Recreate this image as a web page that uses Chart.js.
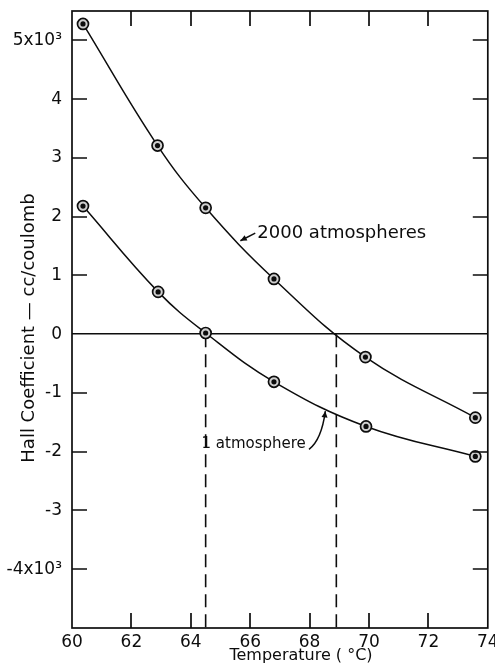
<!DOCTYPE html>
<html>
<head>
<meta charset="utf-8">
<script src="https://cdn.jsdelivr.net/npm/chart.js@4.4.1/dist/chart.umd.min.js"></script>
<style>
  html, body { margin: 0; padding: 0; background: #fff; }
  #wrap { width: 495px; height: 666px; }
</style>
</head>
<body>
<div id="wrap"><canvas id="hallChart"></canvas></div>
<script>
// Hall coefficient (x10^3 cc/coulomb) vs temperature
const temps2000 = [60.37, 62.88, 64.5, 66.8, 69.88, 73.58];
const hall2000  = [5.28, 3.21, 2.15, 0.94, -0.39, -1.42];
const temps1    = [60.37, 62.9, 64.5, 66.8, 69.9, 73.58];
const hall1     = [2.18, 0.72, 0.02, -0.81, -1.57, -2.08];

// temperatures where each curve crosses zero (dashed drop lines)
const zeroCrossings = [64.5, 68.9];

const xTickValues = [60, 62, 64, 66, 68, 70, 72, 74];
const yTickLabels = { 5: '5x10\u00b3', '-4': '-4x10\u00b3', '-5': '' };

const INK = '#0d0d0d';
const FONT = "'DejaVu Sans', sans-serif";
const TICK = 15;

Chart.defaults.font.family = FONT;
Chart.defaults.color = INK;

const toPoints = (xs, ys) => xs.map((x, i) => ({ x: x, y: ys[i] }));

function curve(xs, ys) {
    return {
        data: toPoints(xs, ys),
        showLine: true,
        tension: 0.4,
        borderColor: INK,
        borderWidth: 1.5,
        pointRadius: 5.5,
        pointBorderWidth: 1.7,
        pointBorderColor: INK,
        pointBackgroundColor: '#cfcfcf',
        order: 2
    };
}

function dots(xs, ys) {
    return {
        data: toPoints(xs, ys),
        showLine: false,
        pointRadius: 2.6,
        pointBorderWidth: 0,
        pointBackgroundColor: INK,
        order: 1
    };
}

const dropLines = zeroCrossings.map(t => ({
    data: [{ x: t, y: 0 }, { x: t, y: -5 }],
    showLine: true,
    borderColor: INK,
    borderWidth: 1.6,
    borderDash: [13, 7],
    pointRadius: 0,
    order: 3
}));

function arrowHead(ctx, fromX, fromY, toX, toY, size) {
    const ang = Math.atan2(toY - fromY, toX - fromX);
    ctx.beginPath();
    ctx.moveTo(toX, toY);
    ctx.lineTo(toX - size * Math.cos(ang - 0.45), toY - size * Math.sin(ang - 0.45));
    ctx.lineTo(toX - size * Math.cos(ang + 0.45), toY - size * Math.sin(ang + 0.45));
    ctx.closePath();
    ctx.fill();
}

// box, inward ticks on all four sides, titles and the two curve labels
const framePlugin = {
    id: 'frame',
    afterDraw(chart) {
        const { ctx, chartArea: a, scales: { x, y } } = chart;
        ctx.save();
        ctx.strokeStyle = INK;
        ctx.fillStyle = INK;
        ctx.lineWidth = 1.7;
        ctx.strokeRect(a.left, a.top, a.right - a.left, a.bottom - a.top);

        ctx.beginPath();
        x.ticks.forEach(t => {
            if (t.value <= x.min || t.value >= x.max) return;
            const px = Math.round(x.getPixelForValue(t.value));
            ctx.moveTo(px, a.bottom); ctx.lineTo(px, a.bottom - TICK);
            ctx.moveTo(px, a.top); ctx.lineTo(px, a.top + TICK);
        });
        y.ticks.forEach(t => {
            if (t.value <= y.min || t.value >= y.max || t.value === 0) return;
            const py = Math.round(y.getPixelForValue(t.value));
            ctx.moveTo(a.left, py); ctx.lineTo(a.left + TICK, py);
            ctx.moveTo(a.right, py); ctx.lineTo(a.right - TICK, py);
        });
        ctx.stroke();

        // axis titles
        ctx.textAlign = 'center';
        ctx.textBaseline = 'middle';
        ctx.font = '16px ' + FONT;
        ctx.fillText('Temperature ( \u00b0C)', 301, 656);
        ctx.save();
        ctx.translate(29, 328);
        ctx.rotate(-Math.PI / 2);
        ctx.font = '18px ' + FONT;
        ctx.fillText('Hall Coefficient \u2014 cc/coulomb', 0, 0);
        ctx.restore();

        // curve labels
        ctx.textAlign = 'left';
        ctx.font = '18px ' + FONT;
        ctx.fillText('2000 atmospheres', x.getPixelForValue(66.24), y.getPixelForValue(1.72));
        ctx.font = '15px ' + FONT;
        ctx.fillText('1 atmosphere', x.getPixelForValue(64.36), y.getPixelForValue(-1.87));

        ctx.lineWidth = 1.5;
        // short straight arrow to upper curve
        const ax0 = x.getPixelForValue(66.17), ay0 = y.getPixelForValue(1.72);
        const ax1 = x.getPixelForValue(65.67), ay1 = y.getPixelForValue(1.59);
        ctx.beginPath();
        ctx.moveTo(ax0, ay0);
        ctx.lineTo(ax1, ay1);
        ctx.stroke();
        arrowHead(ctx, ax0, ay0, ax1, ay1, 7);

        // curved arrow to lower curve
        const bx0 = x.getPixelForValue(67.98), by0 = y.getPixelForValue(-1.96);
        const bcx = x.getPixelForValue(68.4), bcy = y.getPixelForValue(-1.8);
        const bx1 = x.getPixelForValue(68.53), by1 = y.getPixelForValue(-1.31);
        ctx.beginPath();
        ctx.moveTo(bx0, by0);
        ctx.quadraticCurveTo(bcx, bcy, bx1, by1);
        ctx.stroke();
        arrowHead(ctx, bcx, bcy, bx1, by1, 7);
        ctx.restore();
    }
};

new Chart(document.getElementById('hallChart'), {
    type: 'scatter',
    data: {
        datasets: [
            ...dropLines,
            curve(temps2000, hall2000),
            dots(temps2000, hall2000),
            curve(temps1, hall1),
            dots(temps1, hall1)
        ]
    },
    options: {
        responsive: true,
        maintainAspectRatio: false,
        animation: false,
        layout: { padding: { top: 11, right: 6, left: 0, bottom: 0 } },
        plugins: {
            legend: { display: false },
            tooltip: { enabled: false }
        },
        scales: {
            x: {
                type: 'linear',
                min: 60,
                max: 74,
                afterBuildTicks: s => { s.ticks = xTickValues.map(v => ({ value: v })); },
                afterFit: s => { s.height = 38; s.paddingLeft = 0; s.paddingRight = 0; },
                grid: { display: false, drawTicks: false },
                border: { display: false },
                ticks: { padding: 4, font: { size: 17 }, color: INK, maxRotation: 0, autoSkip: false }
            },
            y: {
                type: 'linear',
                min: -5,
                max: 5.5,
                afterFit: s => { s.width = 72; s.paddingTop = 0; s.paddingBottom = 0; },
                grid: {
                    drawTicks: false,
                    lineWidth: 1.5,
                    color: c => (c.tick && c.tick.value === 0) ? INK : 'rgba(0,0,0,0)'
                },
                border: { display: false },
                ticks: {
                    stepSize: 1,
                    includeBounds: false,
                    padding: 10,
                    font: { size: 17 },
                    color: INK,
                    callback: v => (v in yTickLabels) ? yTickLabels[v] : String(v)
                }
            }
        }
    },
    plugins: [framePlugin]
});
</script>
</body>
</html>
